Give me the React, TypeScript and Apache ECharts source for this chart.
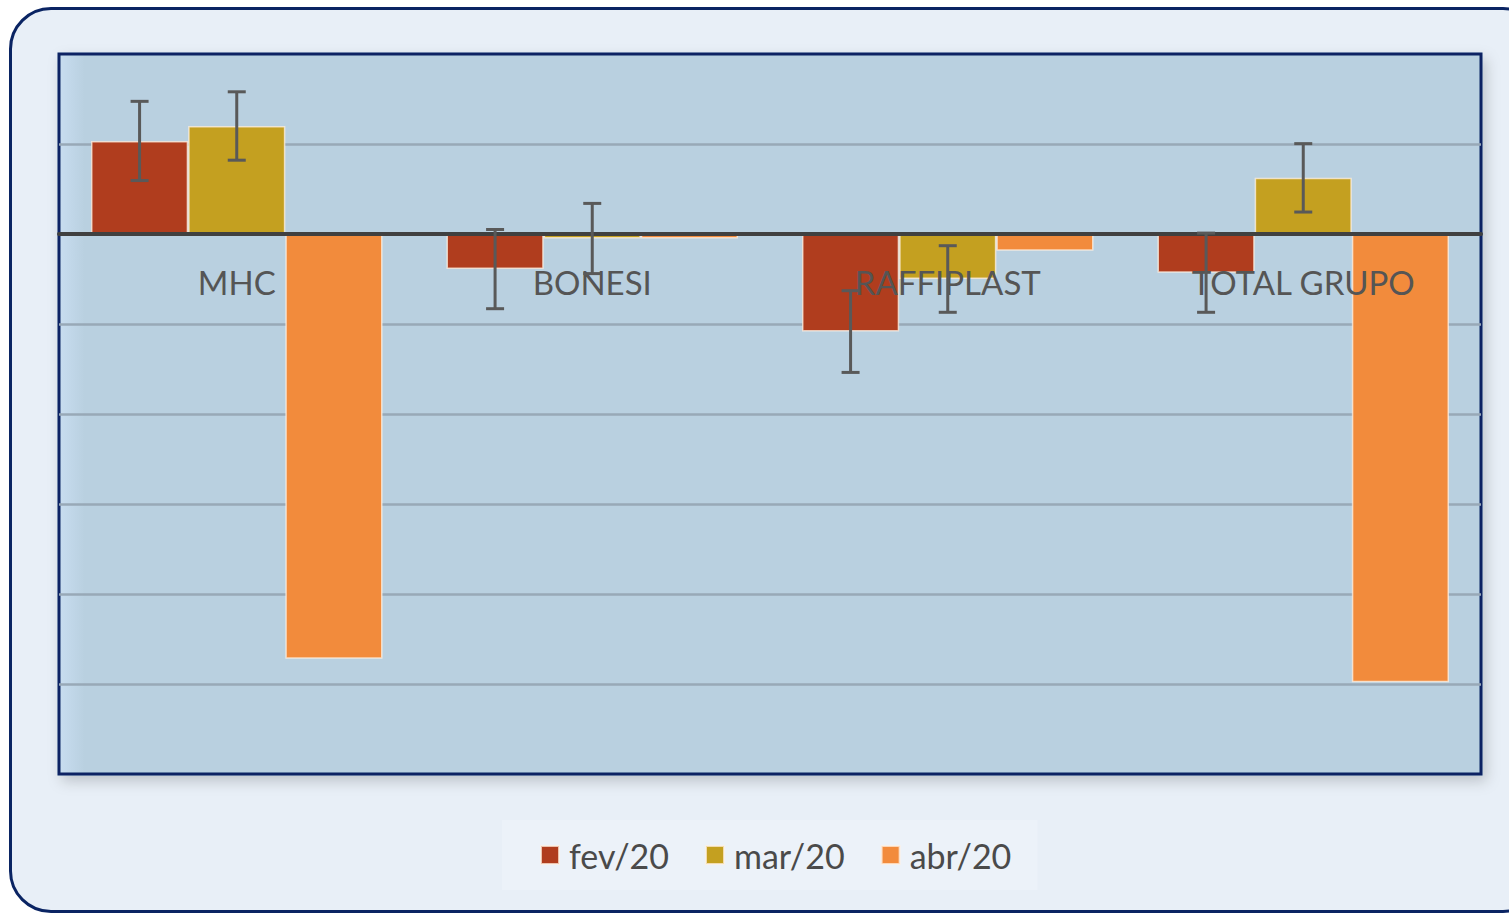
import React, { useEffect, useRef } from "react";
import * as echarts from "echarts";

const categories = ["MHC", "BONESI", "RAFFIPLAST", "TOTAL GRUPO"];
const seriesNames = ["fev/20", "mar/20", "abr/20"];
const fevValues = [5.17, -1.95, -5.42, -2.15];
const marValues = [6.0, -0.25, -2.5, 3.12];
const abrValues = [-23.6, -0.25, -0.93, -24.9];
const fevErrors = [2.2, 2.2, 2.27, 2.2];
const marErrors = [1.9, 1.95, 1.85, 1.9];
const colors = ["#b03d1e", "#c4a020", "#f28b3c"];

const CAT_GAP = 0.18;
const FONT = "Lato, 'Open Sans', sans-serif";

function makeErrorSeries(k: number, values: number[], errors: number[]) {
  return {
    type: "custom",
    name: "err" + k,
    z: 10,
    silent: true,
    data: values.map((v, i) => [i, v, errors[i]]),
    renderItem: (params: any, api: any) => {
      const ci = api.value(0);
      const v = api.value(1);
      const e = api.value(2);
      const catW = api.size([1, 0])[0];
      const bw = (catW * (1 - CAT_GAP)) / 3;
      const cx = api.coord([ci, v])[0] + (k - 1) * bw;
      const top = api.coord([ci, v + e])[1];
      const bot = api.coord([ci, v - e])[1];
      const style = { stroke: "#595959", lineWidth: 3 };
      const half = 9;
      return {
        type: "group",
        children: [
          { type: "line", shape: { x1: cx, y1: top, x2: cx, y2: bot }, style },
          { type: "line", shape: { x1: cx - half, y1: top, x2: cx + half, y2: top }, style },
          { type: "line", shape: { x1: cx - half, y1: bot, x2: cx + half, y2: bot }, style },
        ],
      };
    },
  };
}

export default function App() {
  const ref = useRef<HTMLDivElement>(null);
  useEffect(() => {
    if (!ref.current) return;
    const chart = echarts.init(ref.current, undefined, { renderer: "svg" });
    const barData = [fevValues, marValues, abrValues];
    const option: any = {
      animation: false,
      backgroundColor: "transparent",
      textStyle: { fontFamily: FONT },
      grid: {
        left: 59,
        right: 28,
        top: 54,
        bottom: 141,
        show: true,
        backgroundColor: new echarts.graphic.LinearGradient(0, 0, 1, 0, [
          { offset: 0, color: "#c8ddf0" },
          { offset: 0.018, color: "#b9d0e0" },
          { offset: 1, color: "#b9d0e0" },
        ]),
        borderColor: "#0a2463",
        borderWidth: 3,
        shadowColor: "rgba(0,0,0,0.18)",
        shadowBlur: 14,
        shadowOffsetX: 4,
        shadowOffsetY: 6,
      },
      legend: {
        data: seriesNames,
        left: 502,
        top: 820,
        padding: [18, 26, 18, 38],
        backgroundColor: "#ecf2f9",
        itemWidth: 18,
        itemHeight: 18,
        itemGap: 36,
        icon: "rect",
        textStyle: { fontSize: 34, color: "#4a4a4a", fontFamily: FONT, padding: [0, 0, 0, 5] },
      },
      xAxis: {
        type: "category",
        data: categories,
        z: 5,
        axisLine: { show: true, onZero: true, lineStyle: { color: "#404040", width: 4 } },
        axisTick: { show: false },
        axisLabel: { show: false },
        splitLine: { show: false },
      },
      yAxis: {
        type: "value",
        min: -30,
        max: 10,
        interval: 5,
        axisLabel: { show: false },
        axisLine: { show: false },
        axisTick: { show: false },
        splitLine: {
          show: true,
          showMinLine: false,
          showMaxLine: false,
          lineStyle: { color: "#98a9b7", width: 2.5 },
        },
      },
      series: [
        ...barData.map((d, i) => ({
          type: "bar",
          name: seriesNames[i],
          data: d,
          barGap: "0%",
          barCategoryGap: CAT_GAP * 100 + "%",
          itemStyle: {
            color: colors[i],
            borderColor: "rgba(255,240,225,0.75)",
            borderWidth: 1.5,
          },
          z: 2,
        })),
        {
          type: "custom",
          name: "labels",
          z: 6,
          silent: true,
          data: categories.map((c, i) => [i, 0]),
          renderItem: (params: any, api: any) => {
            const pt = api.coord([api.value(0), 0]);
            return {
              type: "text",
              style: {
                text: categories[params.dataIndex],
                x: pt[0],
                y: pt[1] + 48,
                align: "center",
                verticalAlign: "middle",
                fontSize: 33,
                fill: "#555555",
                fontFamily: FONT,
              },
            };
          },
        },
        makeErrorSeries(0, fevValues, fevErrors),
        makeErrorSeries(1, marValues, marErrors),
      ],
    };
    chart.setOption(option);
    return () => chart.dispose();
  }, []);
  return (
    <div style={{ position: "fixed", left: 0, top: 0, width: 1509, height: 915, background: "#ffffff" }}>
      <div
        style={{
          position: "absolute",
          left: 9,
          top: 7,
          width: 1530,
          height: 900,
          border: "3.5px solid #0a2463",
          borderRadius: 42,
          background: "#e8eff7",
        }}
      />
      <div ref={ref} style={{ position: "absolute", left: 0, top: 0, width: 1509, height: 915 }} />
    </div>
  );
}
